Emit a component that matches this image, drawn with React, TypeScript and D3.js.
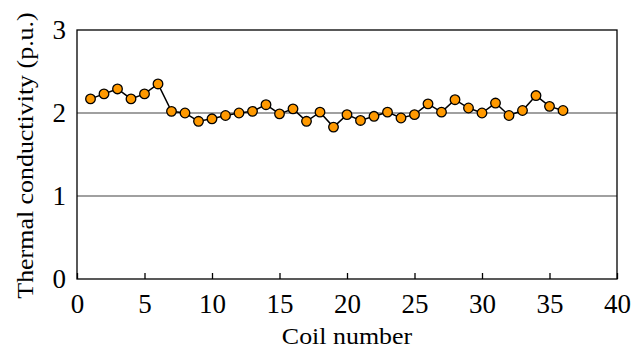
import { useEffect, useRef } from "react";
import * as d3 from "d3";

// Valores
const coils = [
  1, 2, 3, 4, 5, 6, 7, 8, 9, 10, 11, 12, 13, 14, 15, 16, 17, 18,
  19, 20, 21, 22, 23, 24, 25, 26, 27, 28, 29, 30, 31, 32, 33, 34, 35, 36,
];
const conductivity = [
  2.17, 2.23, 2.29, 2.17, 2.23, 2.35, 2.02, 2.0, 1.9, 1.93, 1.97, 2.0,
  2.02, 2.1, 1.99, 2.05, 1.9, 2.01, 1.83, 1.98, 1.91, 1.96, 2.01, 1.94,
  1.98, 2.11, 2.01, 2.16, 2.06, 2.0, 2.12, 1.97, 2.03, 2.21, 2.08, 2.03,
];
const xTicks = [0, 5, 10, 15, 20, 25, 30, 35, 40];
const yTicks = [0, 1, 2, 3];
const gridValues = [1, 2];

const App = () => {
  const ref = useRef<SVGSVGElement | null>(null);

  useEffect(() => {
    if (!ref.current) return;
    const svg = d3.select(ref.current);
    svg.selectAll("*").remove();

    const left = 77;
    const right = 617;
    const top = 30;
    const bottom = 279;
    const font = "Liberation Serif, Times New Roman, Times, serif";
    const tickFs = "27px";
    const titleFs = "24px";
    const stretch = 1.08; // títulos algo ensanchados en el original

    const x = d3.scaleLinear().domain([0, 40]).range([left, right]);
    const y = d3.scaleLinear().domain([0, 3]).range([bottom, top]);

    // grid
    svg.append("g")
      .selectAll("line")
      .data(gridValues)
      .enter()
      .append("line")
      .attr("x1", left)
      .attr("x2", right)
      .attr("y1", (d) => y(d))
      .attr("y2", (d) => y(d))
      .attr("stroke", "#808080")
      .attr("stroke-width", 1.3);

    // marco
    svg.append("rect")
      .attr("x", left)
      .attr("y", top)
      .attr("width", right - left)
      .attr("height", bottom - top)
      .attr("fill", "none")
      .attr("stroke", "#000")
      .attr("stroke-width", 1.3);

    // ticks del eje x (hacia dentro)
    const xAxis = svg.append("g")
      .attr("transform", `translate(0,${bottom})`)
      .call(
        d3.axisBottom(x)
          .tickValues(xTicks)
          .tickFormat(d3.format("d"))
          .tickSizeInner(-6)
          .tickSizeOuter(0)
      );
    xAxis.attr("font-family", font).attr("font-size", tickFs);
    xAxis.select(".domain").remove();
    xAxis.selectAll("line").attr("stroke", "#000").attr("stroke-width", 1.3);
    xAxis.selectAll("text")
      .attr("font-family", font)
      .attr("font-size", tickFs)
      .style("fill", "#000")
      .attr("y", 34)
      .attr("dy", 0);

    const yAxis = svg.append("g")
      .attr("transform", `translate(${left},0)`)
      .call(d3.axisLeft(y).tickValues(yTicks).tickFormat(d3.format("d")).tickSize(0).tickPadding(11));
    yAxis.attr("font-family", font).attr("font-size", tickFs);
    yAxis.select(".domain").remove();
    yAxis.selectAll("text")
      .attr("font-family", font)
      .attr("font-size", tickFs)
      .style("fill", "#000");

    // títulos
    svg.append("text")
      .attr("transform", `translate(${(left + right) / 2},344) scale(${stretch},1)`)
      .attr("text-anchor", "middle")
      .attr("font-family", font)
      .attr("font-size", titleFs)
      .text("Coil number");

    svg.append("text")
      .attr("transform", `translate(33,${(top + bottom) / 2 + 1}) rotate(-90) scale(${stretch},1)`)
      .attr("text-anchor", "middle")
      .attr("font-family", font)
      .attr("font-size", titleFs)
      .text("Thermal conductivity (p.u.)");

    const datos = coils.map((c, i) => ({ c, v: conductivity[i] }));

    const line = d3.line<{ c: number; v: number }>()
      .x((d) => x(d.c))
      .y((d) => y(d.v));

    svg.append("path")
      .datum(datos)
      .attr("d", line)
      .attr("fill", "none")
      .attr("stroke", "#000")
      .attr("stroke-width", 1.5);

    svg.append("g")
      .selectAll("circle")
      .data(datos)
      .enter()
      .append("circle")
      .attr("cx", (d) => x(d.c))
      .attr("cy", (d) => y(d.v))
      .attr("r", 4.8)
      .attr("fill", "#FF9900")
      .attr("stroke", "#000")
      .attr("stroke-width", 1.3);
  }, []);

  return (
    <svg
      ref={ref}
      width={643}
      height={352}
      style={{ position: "absolute", left: 0, top: 0, background: "#fff" }}
    />
  );
};

export default App;
